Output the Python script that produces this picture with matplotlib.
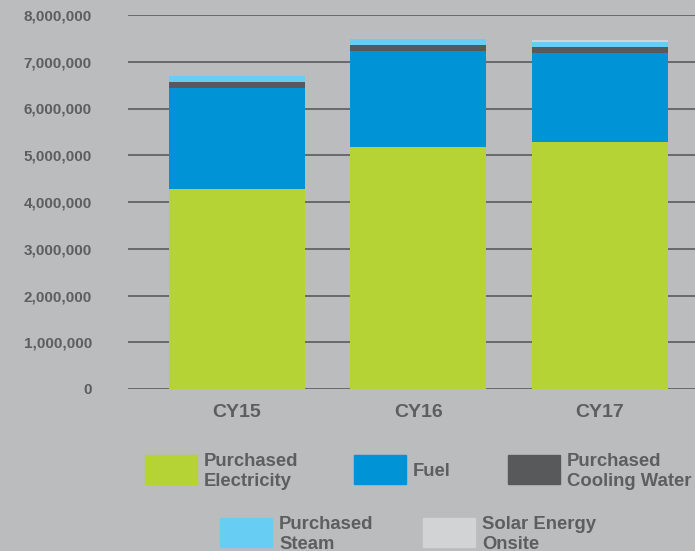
import matplotlib
matplotlib.use("Agg")
import matplotlib.pyplot as plt
from matplotlib.patches import Rectangle
from matplotlib.ticker import FuncFormatter

years = ["CY15", "CY16", "CY17"]
series = ["Purchased\nElectricity", "Fuel", "Purchased\nCooling Water",
          "Purchased\nSteam", "Solar Energy\nOnsite"]
electricity = [4280000, 5180000, 5280000]
fuel = [2160000, 2050000, 1910000]
cooling = [130000, 130000, 130000]
steam = [130000, 130000, 110000]
solar = [0, 0, 40000]
colors = ["#b5d334", "#0093d6", "#58595b", "#67cdf2", "#d1d3d4"]

bg = "#bbbcbe"
txt = "#5d5e60"
plt.rcParams['font.family'] = ['Liberation Sans', 'DejaVu Sans']
plt.rcParams['font.weight'] = 'bold'

W, H = 695, 551
fig = plt.figure(figsize=(W / 100, H / 100), dpi=100, facecolor=bg)
ax = fig.add_axes([128 / W, (H - 389) / H, (W - 128) / W, (389 - 15) / H])
ax.set_facecolor(bg)

x = range(len(years))
bottom = [0, 0, 0]
for vals, c in zip([electricity, fuel, cooling, steam, solar], colors):
    ax.bar(x, vals, width=0.75, bottom=bottom, color=c, zorder=3)
    bottom = [b + v for b, v in zip(bottom, vals)]

ax.set_ylim(0, 8000000)
ax.set_xlim(-0.6, 2.525)
ax.set_yticks(range(0, 8000001, 1000000))
ax.yaxis.set_major_formatter(FuncFormatter(lambda v, p: f"{int(v):,}"))
ax.grid(axis="y", color="#5a5b5d", linewidth=1.2, zorder=0)
for s in ax.spines.values():
    s.set_visible(False)
ax.tick_params(axis="y", length=0, pad=26, labelsize=11, labelcolor=txt)
ax.tick_params(axis="x", length=0, pad=11, labelsize=14, labelcolor=txt)
for lab in ax.get_yticklabels():
    lab.set_fontweight("bold")
ax.set_xticks(list(x))
ax.set_xticklabels(years, fontweight="bold")

# legend, laid out by hand in pixel positions
legend_pos = [(145, 455), (354, 455), (508, 455), (220, 518), (423, 518)]
for (px, py), lab, c in zip(legend_pos, series, colors):
    fig.add_artist(Rectangle((px / W, 1 - (py + 29) / H), 52 / W, 29 / H,
                             transform=fig.transFigure, color=c))
    fig.text((px + 59) / W, 1 - (py + 16.5) / H, lab, color=txt,
             fontsize=13.3, fontweight="bold", va="center", ha="left",
             linespacing=1.28)

fig.savefig("out.png", dpi=100, facecolor=bg)
